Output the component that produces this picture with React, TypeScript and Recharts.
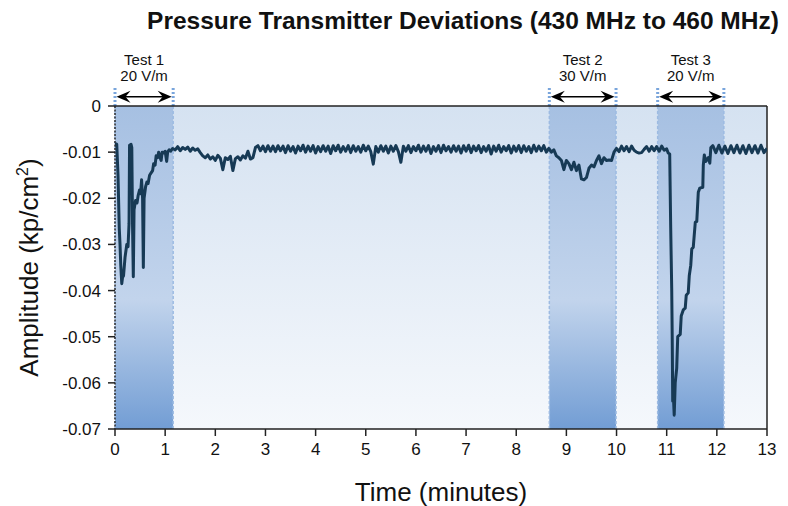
import { Label, Line, LineChart, ReferenceArea, ReferenceLine, XAxis, YAxis } from 'recharts';

const FONT = '"Liberation Sans", Arial, sans-serif';

const xTicks = [0, 1, 2, 3, 4, 5, 6, 7, 8, 9, 10, 11, 12, 13];
const yTicks = [0, -0.01, -0.02, -0.03, -0.04, -0.05, -0.06, -0.07];

const testBands = [
    { name: 'Test 1', field: '20 V/m', start: 0, end: 1.16 },
    { name: 'Test 2', field: '30 V/m', start: 8.66, end: 9.99 },
    { name: 'Test 3', field: '20 V/m', start: 10.82, end: 12.14 },
];

// [minutes, kp/cm2]
const test1Trace = [
    [0, -0.0088], [0.02, -0.0082], [0.035, -0.0083], [0.06, -0.015], [0.085, -0.0265], [0.1, -0.03],
    [0.115, -0.0345], [0.135, -0.0385], [0.15, -0.0372], [0.17, -0.0368], [0.2, -0.0328], [0.235, -0.03],
    [0.26, -0.0305], [0.28, -0.0255], [0.29, -0.0085], [0.32, -0.0083], [0.335, -0.009], [0.35, -0.026],
    [0.365, -0.037], [0.38, -0.0225], [0.41, -0.0205], [0.44, -0.021], [0.46, -0.0195], [0.49, -0.0182],
    [0.51, -0.019], [0.53, -0.016], [0.55, -0.02], [0.565, -0.035], [0.58, -0.02], [0.61, -0.0175],
    [0.635, -0.0165], [0.66, -0.0168], [0.69, -0.015], [0.72, -0.0145], [0.75, -0.014], [0.77, -0.0125],
    [0.8, -0.0128], [0.82, -0.0108], [0.85, -0.0112], [0.87, -0.01], [0.9, -0.0112], [0.92, -0.0118],
    [0.94, -0.01], [0.97, -0.0102], [1.0, -0.0098], [1.03, -0.012], [1.05, -0.01], [1.08, -0.0095],
    [1.11, -0.0098],
];

const quietTrace = [
    [1.15, -0.0092], [1.2, -0.0095], [1.25, -0.0088], [1.3, -0.0097], [1.35, -0.009], [1.4, -0.0094], [1.45, -0.0089], [1.5, -0.0098], [1.55, -0.0091], [1.6, -0.0096],
    [1.65, -0.0093], [1.7, -0.0101], [1.75, -0.0108], [1.8, -0.0112], [1.85, -0.0106], [1.9, -0.0115], [1.95, -0.011], [2.0, -0.0118], [2.05, -0.0107], [2.1, -0.0113],
    [2.15, -0.0138], [2.2, -0.0112], [2.25, -0.0116], [2.3, -0.0109], [2.35, -0.014], [2.4, -0.0114], [2.45, -0.011], [2.5, -0.0117], [2.55, -0.0108], [2.6, -0.0113],
    [2.65, -0.0098], [2.7, -0.0115], [2.75, -0.0112], [2.8, -0.009], [2.85, -0.0086], [2.9, -0.0097], [2.95, -0.0087], [3.0, -0.0099], [3.05, -0.0086], [3.1, -0.0098],
    [3.15, -0.0087], [3.2, -0.0099], [3.25, -0.0086], [3.3, -0.0097], [3.35, -0.0087], [3.4, -0.0101], [3.45, -0.0086], [3.5, -0.0098], [3.55, -0.0088], [3.6, -0.0102],
    [3.65, -0.0087], [3.7, -0.0097], [3.75, -0.0085], [3.8, -0.01], [3.85, -0.0087], [3.9, -0.0098], [3.95, -0.0086], [4.0, -0.0102], [4.05, -0.0088], [4.1, -0.0099],
    [4.15, -0.0086], [4.2, -0.0098], [4.25, -0.0087], [4.3, -0.0103], [4.35, -0.0086], [4.4, -0.0097], [4.45, -0.0085], [4.5, -0.01], [4.55, -0.0088], [4.6, -0.0098],
    [4.65, -0.0086], [4.7, -0.0101], [4.75, -0.0086], [4.8, -0.0098], [4.85, -0.0088], [4.9, -0.01], [4.95, -0.0085], [5.0, -0.0097], [5.05, -0.0087], [5.1, -0.0099],
    [5.15, -0.0126], [5.2, -0.0088], [5.25, -0.01], [5.3, -0.0086], [5.35, -0.0098], [5.4, -0.0087], [5.45, -0.0102], [5.5, -0.0087], [5.55, -0.0098], [5.6, -0.0086],
    [5.65, -0.0099], [5.7, -0.0122], [5.75, -0.0087], [5.8, -0.0098], [5.85, -0.0086], [5.9, -0.0101], [5.95, -0.0088], [6.0, -0.0097], [6.05, -0.0085], [6.1, -0.01],
    [6.15, -0.0087], [6.2, -0.0098], [6.25, -0.0086], [6.3, -0.0103], [6.35, -0.0088], [6.4, -0.0098], [6.45, -0.0086], [6.5, -0.0101], [6.55, -0.0085], [6.6, -0.0097],
    [6.65, -0.0088], [6.7, -0.01], [6.75, -0.0086], [6.8, -0.0098], [6.85, -0.0087], [6.9, -0.0102], [6.95, -0.0086], [7.0, -0.0098], [7.05, -0.0085], [7.1, -0.0101],
    [7.15, -0.0087], [7.2, -0.0097], [7.25, -0.0086], [7.3, -0.0101], [7.35, -0.0088], [7.4, -0.0098], [7.45, -0.0086], [7.5, -0.0104], [7.55, -0.0087], [7.6, -0.0098],
    [7.65, -0.0085], [7.7, -0.01], [7.75, -0.0088], [7.8, -0.0097], [7.85, -0.0086], [7.9, -0.0102], [7.95, -0.0087], [8.0, -0.0098], [8.05, -0.0086], [8.1, -0.0101],
    [8.15, -0.0086], [8.2, -0.0098], [8.25, -0.0088], [8.3, -0.0101], [8.35, -0.0085], [8.4, -0.0098], [8.45, -0.0087], [8.5, -0.0097], [8.55, -0.0086], [8.6, -0.01],
];

const test2Trace = [
    [8.65, -0.0092], [8.7, -0.01], [8.75, -0.0095], [8.8, -0.0108], [8.85, -0.0112], [8.9, -0.0118], [8.95, -0.0138], [9.0, -0.0118], [9.05, -0.0125], [9.1, -0.0138],
    [9.15, -0.0122], [9.2, -0.014], [9.25, -0.0128], [9.3, -0.0158], [9.35, -0.016], [9.4, -0.0155], [9.45, -0.0135], [9.5, -0.0128], [9.55, -0.0132], [9.6, -0.0118],
    [9.65, -0.0108], [9.7, -0.0125], [9.75, -0.0112], [9.8, -0.0118], [9.85, -0.0117], [9.9, -0.0118], [9.95, -0.01], [10.0, -0.0092], [10.05, -0.0099], [10.1, -0.0087],
    [10.15, -0.0097], [10.2, -0.0088], [10.25, -0.0099], [10.3, -0.0087], [10.35, -0.0096], [10.4, -0.01], [10.45, -0.0102], [10.5, -0.0101], [10.55, -0.0094], [10.6, -0.0088],
    [10.65, -0.0098], [10.7, -0.0088], [10.75, -0.0097],
];

const test3Trace = [
    [10.8, -0.0088], [10.85, -0.0098], [10.9, -0.0087], [10.95, -0.0096], [11.0, -0.0093], [11.03, -0.0102],
    [11.06, -0.0104], [11.08, -0.0265], [11.1, -0.0395], [11.11, -0.05], [11.12, -0.064], [11.13, -0.062],
    [11.15, -0.067], [11.17, -0.06], [11.2, -0.0568], [11.22, -0.05], [11.27, -0.0495], [11.29, -0.0455],
    [11.33, -0.0442], [11.37, -0.0438], [11.39, -0.041], [11.43, -0.0405], [11.45, -0.0368], [11.48, -0.0345],
    [11.5, -0.031], [11.53, -0.0306], [11.57, -0.0252], [11.6, -0.025], [11.63, -0.0187], [11.66, -0.0178],
    [11.72, -0.0176], [11.73, -0.0128], [11.75, -0.0106], [11.78, -0.012], [11.83, -0.0112], [11.86, -0.0124],
    [11.88, -0.009],
];

const tailTrace = [
    [11.92, -0.0086], [11.98, -0.0101], [12.04, -0.0085], [12.1, -0.0102], [12.16, -0.0087], [12.22, -0.0103],
    [12.28, -0.0086], [12.34, -0.0101], [12.4, -0.0085], [12.46, -0.0102], [12.52, -0.0086], [12.58, -0.0103],
    [12.64, -0.0085], [12.7, -0.0101], [12.76, -0.0086], [12.82, -0.0102], [12.88, -0.0085], [12.94, -0.0101],
    [13.0, -0.0092],
];

const data = [...test1Trace, ...quietTrace, ...test2Trace, ...test3Trace, ...tailTrace].map(([t, v]) => ({ t, v }));

function BandArrow({ x1, x2, y1, band }: any) {
    const l = x1 + 1.5;
    const r = x2 - 1.5;
    const cx = (x1 + x2) / 2;
    return (
        <g>
            <line x1={l + 6} y1={y1} x2={r - 6} y2={y1} stroke="#000" strokeWidth={1.5} />
            <path d={`M${l},${y1} L${l + 14},${y1 - 6} L${l + 9},${y1} L${l + 14},${y1 + 6} Z`} fill="#000" />
            <path d={`M${r},${y1} L${r - 14},${y1 - 6} L${r - 9},${y1} L${r - 14},${y1 + 6} Z`} fill="#000" />
            <text x={cx} y={y1 - 32} textAnchor="middle" fontSize={15} fill="#111">
                {band.name}
            </text>
            <text x={cx} y={y1 - 15.5} textAnchor="middle" fontSize={15} fill="#111">
                {band.field}
            </text>
        </g>
    );
}

const YLabel = ({ viewBox }: any) => {
    const x = viewBox.x + 38;
    const y = viewBox.y + viewBox.height / 2;
    return (
        <text x={x} y={y} transform={`rotate(-90, ${x}, ${y})`} textAnchor="middle" fontSize={26} fill="#111">
            Amplitude (kp/cm<tspan dy={-10} fontSize={16}>2</tspan>
            <tspan dy={10}>)</tspan>
        </text>
    );
};

export default function App() {
    return (
        <div style={{ position: 'absolute', left: 0, top: 0, width: 788, height: 506, background: '#fff', fontFamily: FONT }}>
            <svg width={0} height={0} style={{ position: 'absolute' }}>
                <defs>
                    <linearGradient id="plotBg" x1="0" y1="0" x2="0" y2="1">
                        <stop offset="0%" stopColor="#d5e2f1" />
                        <stop offset="100%" stopColor="#f5f8fc" />
                    </linearGradient>
                    <linearGradient id="bandBg" x1="0" y1="0" x2="0" y2="1">
                        <stop offset="0%" stopColor="#a6c0e2" />
                        <stop offset="60%" stopColor="#c2d4ec" />
                        <stop offset="100%" stopColor="#729dd4" />
                    </linearGradient>
                </defs>
            </svg>
            <LineChart
                width={788}
                height={506}
                data={data}
                margin={{ top: 106, right: 21, bottom: 0, left: 0 }}
                style={{ fontFamily: FONT }}
            >
                <ReferenceArea x1={0} x2={13} y1={-0.07} y2={0} fill="url(#plotBg)" fillOpacity={1} stroke="none" />
                {testBands.map((b) => (
                    <ReferenceArea key={b.name} x1={b.start} x2={b.end} y1={-0.07} y2={0} fill="url(#bandBg)" fillOpacity={1} stroke="none" />
                ))}
                {testBands.flatMap((b) => [b.start, b.end]).map((x, i) => (
                    <ReferenceLine
                        key={`in${i}`}
                        segment={[{ x, y: 0 }, { x, y: -0.07 }]}
                        stroke="#9dbbe2"
                        strokeWidth={1.5}
                        strokeDasharray="3 2"
                    />
                ))}
                {testBands.flatMap((b) => [b.start, b.end]).map((x, i) => (
                    <ReferenceLine
                        key={`out${i}`}
                        segment={[{ x, y: 0.0039 }, { x, y: 0 }]}
                        stroke="#79a5dc"
                        strokeWidth={3}
                        strokeDasharray="2 2"
                        ifOverflow="visible"
                    />
                ))}
                {testBands.map((b) => (
                    <ReferenceLine
                        key={`arrow${b.name}`}
                        segment={[{ x: b.start, y: 0.002 }, { x: b.end, y: 0.002 }]}
                        ifOverflow="visible"
                        shape={(p: any) => <BandArrow {...p} band={b} />}
                    />
                ))}
                <ReferenceLine y={0} stroke="#222" strokeWidth={1.5} />
                <ReferenceLine x={13} stroke="#222" strokeWidth={1.5} />
                <XAxis
                    dataKey="t"
                    type="number"
                    domain={[0, 13]}
                    ticks={xTicks}
                    height={77}
                    tickSize={7}
                    tickMargin={7}
                    axisLine={{ stroke: '#222', strokeWidth: 1.5 }}
                    tickLine={{ stroke: '#222', strokeWidth: 1.5 }}
                    tick={{ fill: '#111', fontSize: 17 }}
                    allowDataOverflow
                >
                    <Label value="Time (minutes)" position="insideBottom" offset={5} fontSize={26} fill="#111" />
                </XAxis>
                <YAxis
                    type="number"
                    domain={[-0.07, 0]}
                    ticks={yTicks}
                    width={115}
                    tickSize={7}
                    tickMargin={7}
                    tickFormatter={(v: number) => (v === 0 ? '0' : v.toFixed(2))}
                    axisLine={{ stroke: '#2b2b2b', strokeWidth: 1.5, strokeDasharray: '2 1.5' }}
                    tickLine={{ stroke: '#222', strokeWidth: 1.5 }}
                    tick={{ fill: '#111', fontSize: 17 }}
                    allowDataOverflow
                >
                    <Label content={<YLabel />} />
                </YAxis>
                <Line
                    dataKey="v"
                    type="linear"
                    stroke="#173a55"
                    strokeWidth={3}
                    strokeLinejoin="round"
                    dot={false}
                    isAnimationActive={false}
                />
            </LineChart>
            <svg width={788} height={40} style={{ position: 'absolute', left: 0, top: 0, pointerEvents: 'none' }}>
                <text x={463} y={29} textAnchor="middle" fontSize={24.5} fontWeight="bold" fill="#111" fontFamily={FONT}>
                    Pressure Transmitter Deviations (430 MHz to 460 MHz)
                </text>
            </svg>
        </div>
    );
}
